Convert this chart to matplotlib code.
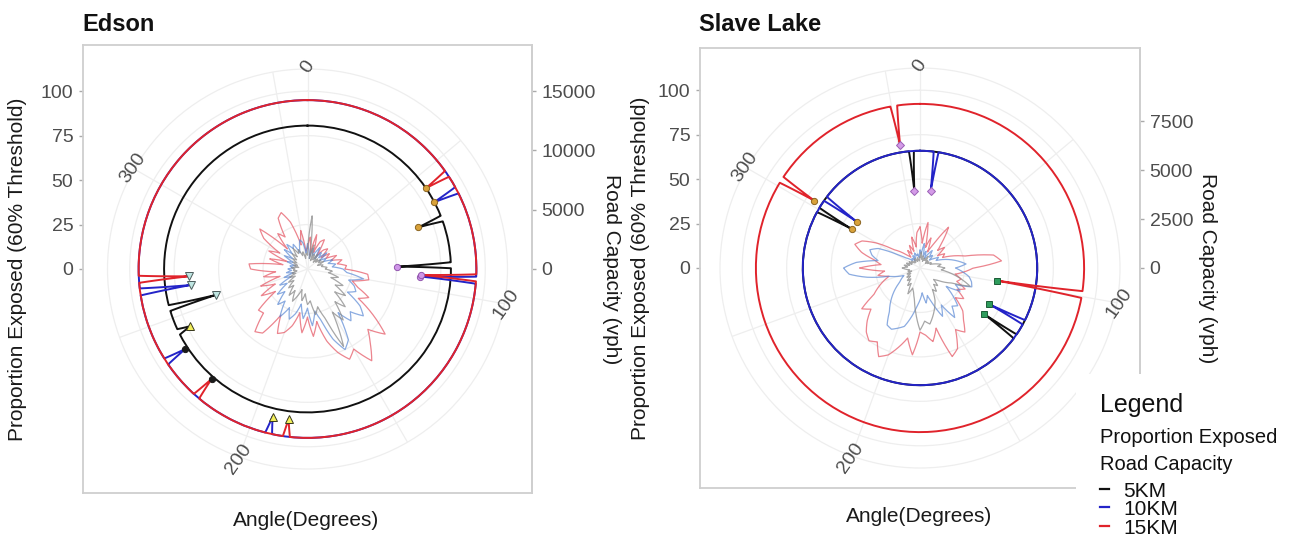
import numpy as np
import matplotlib.pyplot as plt
from matplotlib.lines import Line2D
from matplotlib.patches import Rectangle

plt.rcParams['font.family'] = ['Liberation Sans', 'DejaVu Sans']

# ---------------- data ----------------
# proportion exposed (%) every 5 degrees, 0..355
angle_deg = np.arange(0, 360, 5)

edson_prop_5 = [8, 30, 6, 14, 5, 9, 6, 10, 5, 8,
                6, 9, 7, 10, 6, 9, 8, 11, 10, 14,
                12, 18, 14, 22, 18, 26, 20, 30, 24, 35,
                28, 48, 30, 22, 26, 18, 20, 14, 18, 12,
                16, 20, 14, 18, 12, 15, 10, 13, 8, 11,
                7, 9, 6, 8, 7, 9, 5, 8, 6, 9,
                7, 10, 8, 12, 9, 14, 10, 12, 8, 10,
                6, 9]
edson_prop_10 = [14, 10, 6, 12, 8, 10, 14, 7, 12, 9,
                 14, 8, 12, 10, 15, 12, 16, 14, 20, 22,
                 32, 24, 28, 30, 26, 36, 41, 34, 38, 30,
                 46, 50, 42, 30, 24, 32, 22, 28, 20, 26,
                 30, 24, 31, 22, 26, 18, 22, 14, 18, 10,
                 14, 8, 12, 9, 11, 8, 10, 7, 12, 9,
                 15, 10, 17, 12, 18, 14, 16, 10, 13, 17,
                 15, 9]
edson_prop_15 = [12, 18, 8, 20, 10, 17, 19, 9, 14, 16,
                 10, 15, 12, 18, 14, 20, 17, 22, 21, 34,
                 35, 26, 30, 38, 33, 45, 57, 48, 55, 63,
                 52, 56, 50, 42, 30, 38, 27, 36, 25, 33,
                 38, 40, 30, 44, 46, 35, 36, 22, 30, 20,
                 28, 16, 25, 18, 32, 33, 14, 22, 12, 24,
                 18, 30, 35, 16, 26, 22, 33, 35, 28, 14,
                 22, 10]

slave_prop_5 = [6, 9, 5, 7, 4, 6, 5, 8, 5, 6,
                4, 6, 5, 7, 6, 9, 12, 10, 14, 12,
                18, 24, 30, 20, 16, 12, 10, 14, 12, 16,
                14, 20, 24, 28, 32, 30, 35, 26, 18, 14,
                12, 16, 10, 12, 8, 10, 7, 9, 6, 8,
                5, 7, 6, 8, 10, 7, 9, 6, 8, 5,
                7, 5, 6, 4, 5, 4, 6, 5, 4, 6,
                5, 4]
slave_prop_10 = [10, 8, 14, 7, 10, 6, 9, 12, 8, 10,
                 7, 9, 12, 10, 14, 18, 22, 26, 20, 24,
                 28, 30, 31, 22, 26, 18, 24, 30, 28, 34,
                 24, 30, 22, 16, 20, 14, 18, 22, 28, 34,
                 36, 38, 37, 30, 26, 22, 18, 14, 12, 10,
                 14, 18, 30, 40, 43, 36, 24, 28, 30, 26,
                 16, 10, 8, 6, 7, 5, 8, 6, 9, 7,
                 8, 6]
slave_prop_15 = [23, 14, 26, 12, 18, 10, 16, 28, 20, 14,
                 18, 12, 16, 14, 20, 26, 42, 46, 30, 25,
                 20, 24, 22, 28, 24, 30, 26, 34, 38, 44,
                 40, 50, 53, 35, 42, 38, 36, 49, 40, 46,
                 52, 55, 48, 50, 47, 42, 36, 40, 30, 26,
                 22, 18, 24, 20, 34, 22, 26, 34, 39, 36,
                 28, 18, 14, 10, 8, 12, 9, 14, 10, 18,
                 12, 20]

# road capacity (vph) and the road exits where the ring dips to a marker
edson_scale = 150          # sec axis: vph = proportion * scale
edson_cap_5, edson_cap_10, edson_cap_15 = 12100, 14250, 14250
edson_dip_ang_5 = [69.4, 88.5, 244.0, 254.2]
edson_dip_val_5 = [66.6, 50.6, 73.4, 53.5]
edson_dip_road_5 = ['orange', 'purple', 'tri_up', 'tri_dn']
edson_dip_ang_10 = [62.2, 93.8, 193.3, 236.8, 262.2]
edson_dip_val_10 = [80.4, 63.7, 85.3, 82.1, 66.2]
edson_dip_road_10 = ['orange', 'purple', 'tri_up', 'black', 'tri_dn']
edson_dip_ang_15 = [55.7, 93.0, 187.2, 221.1, 266.5]
edson_dip_val_15 = [80.5, 64.0, 85.0, 82.0, 66.6]
edson_dip_road_15 = ['orange', 'purple', 'tri_up', 'black', 'tri_dn']

slave_scale = 91
slave_cap_5, slave_cap_10, slave_cap_15 = 6000, 6000, 8400
slave_dip_ang_5 = [125.7, 299.7, 355.8]
slave_dip_val_5 = [44.3, 44.2, 43.6]
slave_dip_road_5 = ['square', 'orange', 'diamond']
slave_dip_ang_10 = [7.9, 117.6, 306.2]
slave_dip_val_10 = [43.9, 44.0, 44.1]
slave_dip_road_10 = ['diamond', 'square', 'orange']
slave_dip_ang_15 = [99.3, 302.5, 350.8]
slave_dip_val_15 = [44.0, 70.4, 70.1]
slave_dip_road_15 = ['square', 'orange', 'diamond']

distances = ['5KM', '10KM', '15KM']

# ---------------- style ----------------
W, H = 1292, 539
fig = plt.figure(figsize=(W / 100, H / 100), dpi=100)

R_OUT = 112.5              # outer grid circle
PX_UNIT = 200 / R_OUT      # pixels per proportion unit
GRID = '#EEEEEE'
TXT = '#4D4D4D'
RING_COL = {'5KM': '#111111', '10KM': '#2424C8', '15KM': '#E0232B'}
ROSE_COL = {'5KM': '#8A8A8A', '10KM': '#5A88D4', '15KM': '#E4515F'}
ROSE_ALPHA = {'5KM': 0.75, '10KM': 0.7, '15KM': 0.7}
ROAD_STYLE = {
    'orange': dict(marker='o', mfc='#D9A23A', mec='#8A6420', ms=4.5),
    'purple': dict(marker='o', mfc='#CF96E8', mec='#9255AE', ms=4.5),
    'tri_up': dict(marker='^', mfc='#F2EE5A', mec='#3A3A20', ms=6),
    'tri_dn': dict(marker='v', mfc='#BFE6E2', mec='#4E5E5E', ms=6),
    'black': dict(marker='o', mfc='#1A1A1A', mec='#1A1A1A', ms=4.5),
    'diamond': dict(marker='D', mfc='#D49BE8', mec='#9A60B5', ms=4),
    'square': dict(marker='s', mfc='#2E9C5C', mec='#1E5E38', ms=4.5),
}


def px_box(x0, y0, w, h):
    return [x0 / W, 1 - (y0 + h) / H, w / W, h / H]


def closed(vals):
    th = np.deg2rad(np.append(angle_deg, 360))
    return th, np.append(vals, vals[0])


def ring(cap, k, dip_ang, dip_val, w=1.2):
    base = cap / k
    th, r = [0.0], [base]
    for a, v in sorted(zip(dip_ang, dip_val)):
        th += [a - w, a, a + w]
        r += [base, v, base]
    th.append(360.0)
    r.append(base)
    return np.deg2rad(th), r


def polar_line(ax, th, r, **kw):
    # like coord_polar: segments follow arcs instead of chords
    ln, = ax.plot(th, r, **kw)
    ln.get_path()._interpolation_steps = 60
    return ln


def panel(frame_px, title, k, cap_ticks, props, caps, dips, label_px):
    x0, y0, w, h = frame_px
    fr = fig.add_axes(px_box(*frame_px))
    half = (h / 2) / PX_UNIT
    fr.set_ylim(-half, half)
    fr.set_xticks([])
    fr.set_yticks([0, 25, 50, 75, 100])
    fr.tick_params(axis='y', colors='#AAAAAA', labelcolor=TXT, labelsize=14,
                   length=3, width=1, pad=4)
    for s in fr.spines.values():
        s.set_color('#CFCFCF')
        s.set_linewidth(1.3)
    sec = fr.secondary_yaxis('right', functions=(lambda v, k=k: v * k,
                                                 lambda c, k=k: c / k))
    sec.set_yticks(cap_ticks)
    sec.tick_params(colors='#AAAAAA', labelcolor=TXT, labelsize=14,
                    length=3, width=1, pad=4)
    sec.spines['right'].set_color('#CFCFCF')
    sec.spines['right'].set_linewidth(1.3)

    cx, cy = x0 + w / 2, y0 + h / 2
    ax = fig.add_axes(px_box(cx - 200, cy - 200, 400, 400), projection='polar')
    ax.set_theta_zero_location('N')
    ax.set_theta_direction(-1)
    ax.set_ylim(0, R_OUT)
    ax.set_yticks([25, 50, 75, 100])
    ax.set_yticklabels([])
    ax.set_xticks(np.deg2rad(np.arange(0, 360, 50)))
    ax.set_xticklabels([])
    ax.grid(True, color=GRID, lw=0.9)
    ax.spines['polar'].set_color(GRID)
    ax.spines['polar'].set_linewidth(0.9)
    ax.patch.set_alpha(0)

    for d in ['15KM', '10KM', '5KM']:
        th, r = closed(props[d])
        polar_line(ax, th, r, color=ROSE_COL[d], lw=0.9, alpha=ROSE_ALPHA[d],
                   zorder=2)

    for d in distances:
        ang, val, road = dips[d]
        th, r = ring(caps[d], k, ang, val)
        polar_line(ax, th, r, color=RING_COL[d], lw=1.4, zorder=3)
    for d in distances:
        ang, val, road = dips[d]
        for a, v, rd in zip(ang, val, road):
            ax.plot(np.deg2rad(a), v, ls='none', mew=0.7, zorder=5, **ROAD_STYLE[rd])

    for a in [0, 100, 200, 300]:
        ax.text(np.deg2rad(a), 113.5, str(a), rotation=55, ha='center', va='center',
                rotation_mode='anchor', fontsize=14, color=TXT, clip_on=False)

    fig.text((x0 - 1) / W, 1 - 31 / H, title, fontsize=17, fontweight='bold',
             color='#111111', va='baseline', ha='left')
    lx, rx, bx, by = label_px
    fig.text(lx / W, 1 - cy / H, 'Proportion Exposed (60% Threshold)', rotation=90,
             ha='center', va='center', fontsize=15, color='#1A1A1A')
    fig.text(rx / W, 1 - cy / H, 'Road Capacity (vph)', rotation=270,
             ha='center', va='center', fontsize=15, color='#1A1A1A')
    fig.text(bx / W, 1 - by / H, 'Angle(Degrees)', ha='center', va='center',
             fontsize=15, color='#1A1A1A')
    return ax


panel((83, 45, 449, 448), 'Edson', edson_scale, [0, 5000, 10000, 15000],
      {'5KM': edson_prop_5, '10KM': edson_prop_10, '15KM': edson_prop_15},
      {'5KM': edson_cap_5, '10KM': edson_cap_10, '15KM': edson_cap_15},
      {'5KM': (edson_dip_ang_5, edson_dip_val_5, edson_dip_road_5),
       '10KM': (edson_dip_ang_10, edson_dip_val_10, edson_dip_road_10),
       '15KM': (edson_dip_ang_15, edson_dip_val_15, edson_dip_road_15)},
      (18, 612, 306, 521))

panel((700, 48, 440, 440), 'Slave Lake', slave_scale, [0, 2500, 5000, 7500],
      {'5KM': slave_prop_5, '10KM': slave_prop_10, '15KM': slave_prop_15},
      {'5KM': slave_cap_5, '10KM': slave_cap_10, '15KM': slave_cap_15},
      {'5KM': (slave_dip_ang_5, slave_dip_val_5, slave_dip_road_5),
       '10KM': (slave_dip_ang_10, slave_dip_val_10, slave_dip_road_10),
       '15KM': (slave_dip_ang_15, slave_dip_val_15, slave_dip_road_15)},
      (640, 1207, 919, 516))

# legend box (white background covers the panel corner)
fig.patches.append(Rectangle((1076 / W, 0), (W - 1076) / W, (H - 374) / H,
                             transform=fig.transFigure, facecolor='white',
                             edgecolor='none', zorder=5))
fig.text(1100 / W, 1 - 412 / H, 'Legend', fontsize=18, color='#111111',
         va='baseline', zorder=6)
fig.text(1100 / W, 1 - 443 / H, 'Proportion Exposed', fontsize=14.5,
         color='#111111', va='baseline', zorder=6)
fig.text(1100 / W, 1 - 470 / H, 'Road Capacity', fontsize=14.5,
         color='#111111', va='baseline', zorder=6)
for d, base in zip(distances, [497, 515, 534]):
    mid = base - 8
    fig.add_artist(Line2D([1100 / W, 1109 / W], [1 - mid / H, 1 - mid / H],
                          color=RING_COL[d], lw=1.6, transform=fig.transFigure,
                          zorder=6))
    fig.text(1123 / W, 1 - base / H, d, fontsize=15, color='#111111',
             va='baseline', zorder=6)

fig.savefig('out.png', dpi=100, facecolor='white')
